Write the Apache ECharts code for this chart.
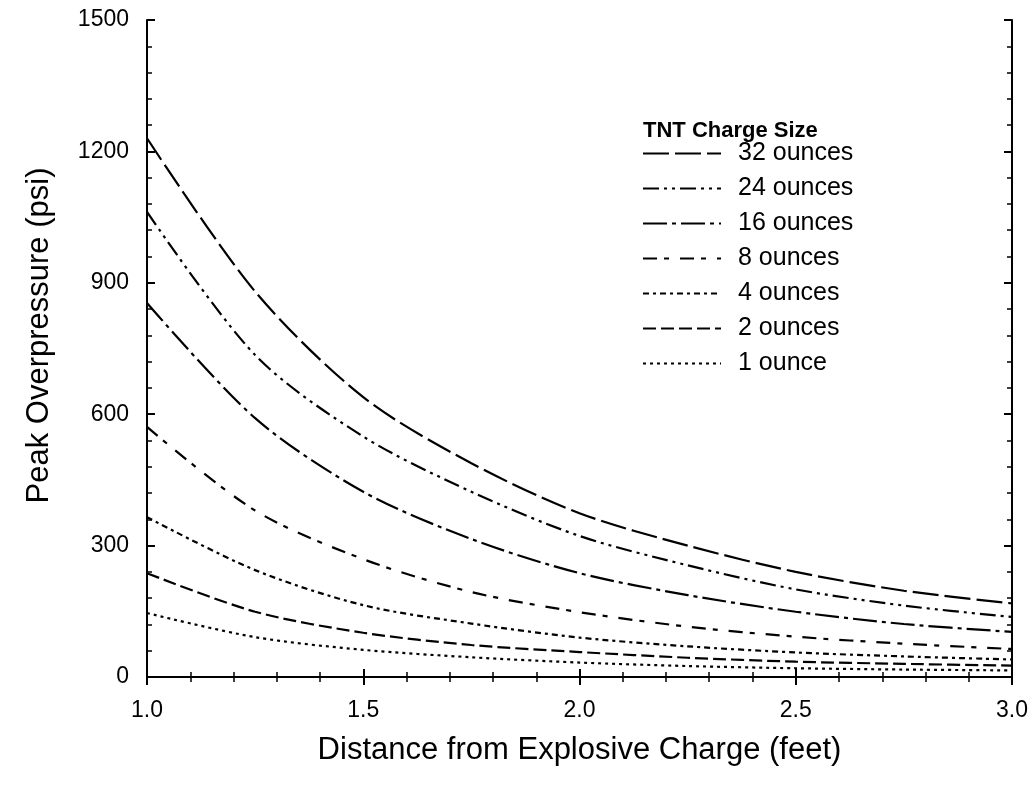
<!DOCTYPE html>
<html>
<head>
<meta charset="utf-8">
<script src="https://cdn.jsdelivr.net/npm/echarts@6/dist/echarts.min.js"></script>
<style>
html,body{margin:0;padding:0;background:#fff;}
#chart{width:1032px;height:790px;}
</style>
</head>
<body>
<div id="chart"></div>
<script>
// Distance (feet)
const distance = [1.0, 1.25, 1.5, 1.75, 2.0, 2.25, 2.5, 2.75, 3.0];
// Peak overpressure (psi) per TNT charge size
const oz32 = [1230, 880, 639, 488, 374, 300, 240, 197, 168];
const oz24 = [1062, 735, 549, 423, 322, 255, 200, 163, 137];
const oz16 = [854, 591, 423, 315, 237, 187, 149, 121, 103];
const oz8  = [571, 380, 269, 194, 148, 115, 92, 76, 64];
const oz4  = [365, 244, 164, 122, 90, 70, 56, 47, 40];
const oz2  = [237, 149, 101, 73, 57, 44, 35, 30, 26];
const oz1  = [146, 91, 62, 45, 33, 25, 20, 17, 15];
const seriesNames = ['32 ounces', '24 ounces', '16 ounces', '8 ounces', '4 ounces', '2 ounces', '1 ounce'];
const xTicks = ['1.0', '1.5', '2.0', '2.5', '3.0'];
const yTicks = [0, 300, 600, 900, 1200, 1500];

const values = [oz32, oz24, oz16, oz8, oz4, oz2, oz1];
const dashes = [
  [26, 6],
  [16, 5, 3, 5, 3, 5],
  [24, 5, 4, 5],
  [14, 7, 5, 11],
  [6, 4, 3, 4],
  [13, 5],
  [3, 4]
];

const font = 'Liberation Sans, Arial, Helvetica, sans-serif';
const chart = echarts.init(document.getElementById('chart'));

const series = values.map((vals, i) => ({
  name: seriesNames[i],
  type: 'line',
  xAxisIndex: 0,
  yAxisIndex: 0,
  smooth: 0.3,
  symbol: 'none',
  data: distance.map((d, j) => [d, vals[j]]),
  lineStyle: { color: '#000', width: 2.2, type: dashes[i] },
  itemStyle: { color: '#000' }
}));

const axisLine = { show: true, lineStyle: { color: '#000', width: 2 } };

chart.setOption({
  animation: false,
  backgroundColor: '#fff',
  title: {
    text: 'TNT Charge Size',
    left: 638,
    top: 115,
    textStyle: { fontFamily: font, fontSize: 22, fontWeight: 'bold', color: '#000' }
  },
  legend: {
    orient: 'vertical',
    left: 637,
    top: 136,
    itemWidth: 78,
    itemHeight: 12,
    itemGap: 10,
    data: seriesNames,
    itemStyle: { opacity: 0 },
    textStyle: { fontFamily: font, fontSize: 25, color: '#000', padding: [0, 0, 0, 12] }
  },
  grid: { left: 147, top: 20, right: 20, bottom: 113, containLabel: false },
  xAxis: [{
    type: 'value', min: 1, max: 3, interval: 0.5,
    name: 'Distance from Explosive Charge (feet)',
    nameLocation: 'middle', nameGap: 58,
    nameTextStyle: { fontFamily: font, fontSize: 31, color: '#000' },
    axisLine: axisLine,
    axisTick: { show: true, inside: true, length: 8, lineStyle: { color: '#000', width: 2 } },
    minorTick: { show: true, splitNumber: 5, length: 5, lineStyle: { color: '#000', width: 1.5 } },
    splitLine: { show: false },
    axisLabel: { fontFamily: font, fontSize: 23, color: '#000', margin: 22,
      formatter: v => xTicks.find(t => parseFloat(t) === v) || v.toFixed(1) }
  }, {
    type: 'value', min: 1, max: 3, interval: 0.5, position: 'top',
    axisLine: axisLine,
    axisTick: { show: true, inside: true, length: 8, lineStyle: { color: '#000', width: 2 } },
    minorTick: { show: true, splitNumber: 5, length: 5, lineStyle: { color: '#000', width: 1.5 } },
    splitLine: { show: false },
    axisLabel: { show: false }
  }],
  yAxis: [{
    type: 'value', min: 0, max: 1500, interval: 300,
    name: 'Peak Overpressure (psi)',
    nameLocation: 'middle', nameGap: 92,
    nameTextStyle: { fontFamily: font, fontSize: 31, color: '#000', padding: [0, 0, 0, 26] },
    axisLine: axisLine,
    axisTick: { show: true, inside: true, length: 8, lineStyle: { color: '#000', width: 2 } },
    minorTick: { show: true, splitNumber: 5, length: 5, lineStyle: { color: '#000', width: 1.5 } },
    splitLine: { show: false },
    axisLabel: { fontFamily: font, fontSize: 23, color: '#000', margin: 18,
      formatter: v => yTicks.includes(v) ? String(v) : '' }
  }, {
    type: 'value', min: 0, max: 1500, interval: 300, position: 'right',
    axisLine: axisLine,
    axisTick: { show: true, inside: true, length: 8, lineStyle: { color: '#000', width: 2 } },
    minorTick: { show: true, splitNumber: 5, length: 5, lineStyle: { color: '#000', width: 1.5 } },
    splitLine: { show: false },
    axisLabel: { show: false }
  }],
  series: series
});
</script>
</body>
</html>
